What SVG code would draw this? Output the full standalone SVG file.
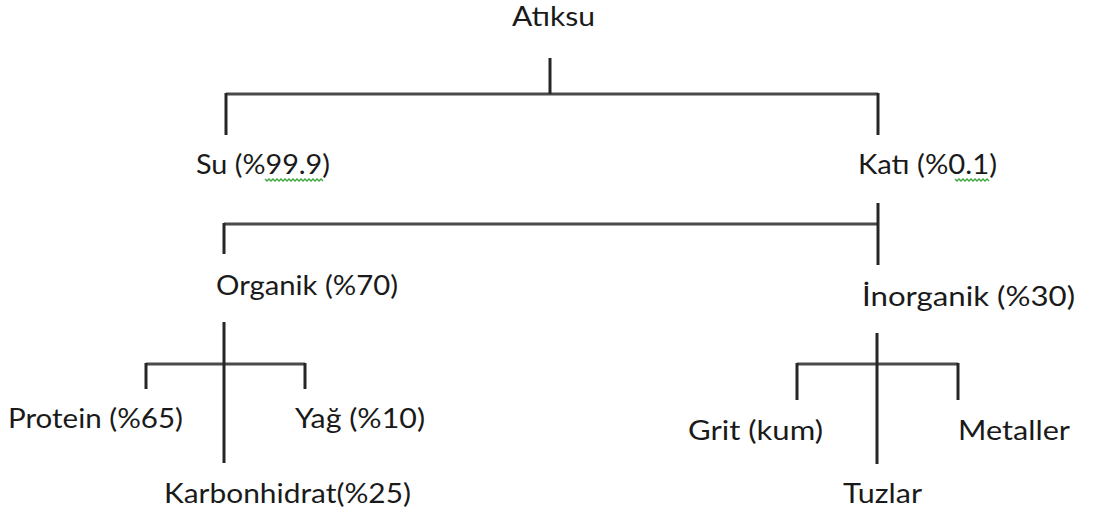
<svg xmlns="http://www.w3.org/2000/svg" width="1093" height="513" viewBox="0 0 1093 513">
  <style>
    .bg { fill: #ffffff; }
    .lbl { font-family: Lato, "Open Sans", "Liberation Sans", sans-serif; font-size: 27px; fill: #1a1a1a; }
    .link { stroke: #262626; stroke-width: 3; fill: none; stroke-linecap: butt; }
    .bar { stroke: #4a4a4a; stroke-width: 3; fill: none; }
    .squiggle { stroke: #3aa63a; stroke-width: 1.3; fill: none; }
  </style>
  <rect class="bg" width="1093" height="513"/>

  <!-- connectors -->
  <g id="connectors">
    <!-- Atıksu split -->
    <path class="bar" d="M226 94 H878"/>
    <path class="link" d="M550 58 V94 M226 93 V135 M878 93 V135"/>
    <!-- Katı split -->
    <path class="bar" d="M224 224 H878"/>
    <path class="link" d="M878 203 V265 M224 223 V254"/>
    <!-- Organik split -->
    <path class="bar" d="M146 364 H305"/>
    <path class="link" d="M224 322 V463 M146 363 V389 M305 363 V389"/>
    <!-- İnorganik split -->
    <path class="bar" d="M797 364 H958"/>
    <path class="link" d="M877 333 V464 M797 363 V400 M958 363 V400"/>
  </g>

  <!-- nodes -->
  <g id="node-atiksu"><text class="lbl" x="512" y="26" textLength="83" lengthAdjust="spacingAndGlyphs">Atıksu</text></g>
  <g id="node-su">
    <text class="lbl" x="196" y="174" textLength="134" lengthAdjust="spacingAndGlyphs">Su (%99.9)</text>
    <path class="squiggle" d="M265 179 l2 2 l2 -2 l2 2 l2 -2 l2 2 l2 -2 l2 2 l2 -2 l2 2 l2 -2 l2 2 l2 -2 l2 2 l2 -2 l2 2 l2 -2 l2 2 l2 -2 l2 2 l2 -2 l2 2 l2 -2 l2 2 l2 -2 l2 2 l2 -2 l2 2 l2 -2 l2 2"/>
  </g>
  <g id="node-kati">
    <text class="lbl" x="858" y="174" textLength="139" lengthAdjust="spacingAndGlyphs">Katı (%0.1)</text>
    <path class="squiggle" d="M955 179 l2 2 l2 -2 l2 2 l2 -2 l2 2 l2 -2 l2 2 l2 -2 l2 2 l2 -2 l2 2 l2 -2 l2 2 l2 -2 l2 2 l2 -2 l2 2"/>
  </g>
  <g id="node-organik"><text class="lbl" x="216" y="295" textLength="182" lengthAdjust="spacingAndGlyphs">Organik (%70)</text></g>
  <g id="node-inorganik"><text class="lbl" x="862" y="306" textLength="213" lengthAdjust="spacingAndGlyphs">İnorganik (%30)</text></g>
  <g id="node-protein"><text class="lbl" x="8" y="428" textLength="175" lengthAdjust="spacingAndGlyphs">Protein (%65)</text></g>
  <g id="node-yag"><text class="lbl" x="295" y="428" textLength="130" lengthAdjust="spacingAndGlyphs">Yağ (%10)</text></g>
  <g id="node-karbonhidrat"><text class="lbl" x="164" y="503" textLength="247" lengthAdjust="spacingAndGlyphs">Karbonhidrat(%25)</text></g>
  <g id="node-grit"><text class="lbl" x="688" y="440" textLength="135" lengthAdjust="spacingAndGlyphs">Grit (kum)</text></g>
  <g id="node-metaller"><text class="lbl" x="958" y="440" textLength="112" lengthAdjust="spacingAndGlyphs">Metaller</text></g>
  <g id="node-tuzlar"><text class="lbl" x="843" y="503" textLength="79" lengthAdjust="spacingAndGlyphs">Tuzlar</text></g>
</svg>
